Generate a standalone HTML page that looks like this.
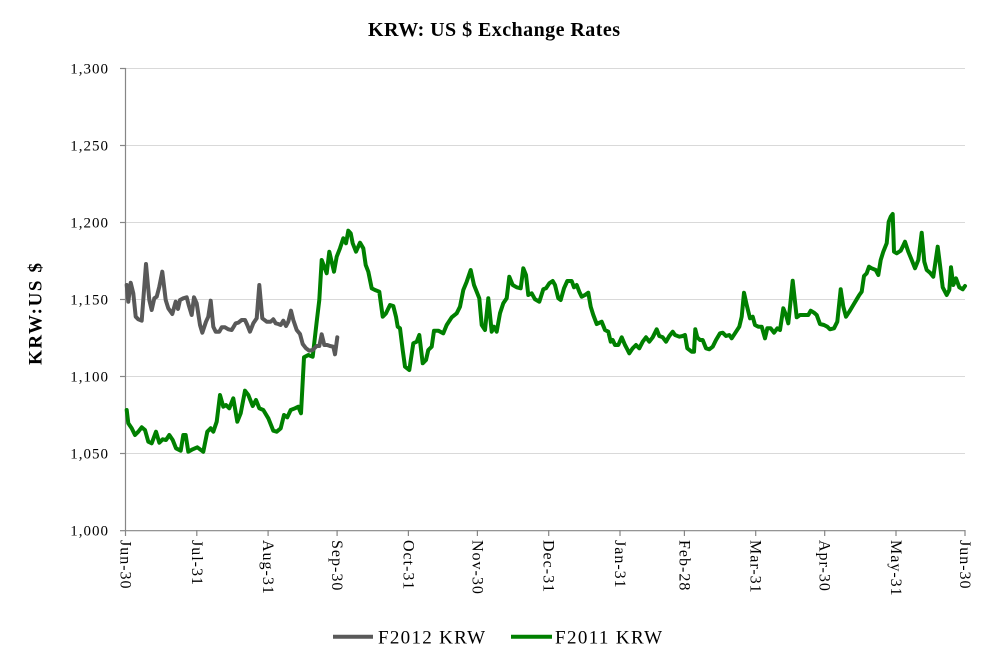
<!DOCTYPE html>
<html>
<head>
<meta charset="utf-8">
<style>
  html, body { margin:0; padding:0; background:#ffffff; }
  body { width:990px; height:670px; overflow:hidden; }
  svg { display:block; }
  text { font-family: "Liberation Serif", "DejaVu Serif", serif; fill:#000; }
</style>
</head>
<body>
<svg width="990" height="670" viewBox="0 0 990 670" xmlns="http://www.w3.org/2000/svg">
  <rect x="0" y="0" width="990" height="670" fill="#ffffff"/>

  <!-- Title -->
  <text x="494" y="36" font-size="20" font-weight="bold" text-anchor="middle" textLength="252" lengthAdjust="spacing">KRW: US $ Exchange Rates</text>

  <!-- Gridlines -->
  <g stroke="#d9d9d9" stroke-width="1">
    <line x1="126" y1="68.5" x2="965" y2="68.5"/>
    <line x1="126" y1="145.5" x2="965" y2="145.5"/>
    <line x1="126" y1="222.5" x2="965" y2="222.5"/>
    <line x1="126" y1="299.5" x2="965" y2="299.5"/>
    <line x1="126" y1="376.5" x2="965" y2="376.5"/>
    <line x1="126" y1="453.5" x2="965" y2="453.5"/>
  </g>

  <!-- Axes -->
  <g stroke="#868686" stroke-width="1.2">
    <line x1="125.5" y1="68" x2="125.5" y2="531"/>
    <line x1="125" y1="530.7" x2="965.5" y2="530.7"/>
    <!-- y ticks -->
    <line x1="120" y1="68.5" x2="126" y2="68.5"/>
    <line x1="120" y1="145.5" x2="126" y2="145.5"/>
    <line x1="120" y1="222.5" x2="126" y2="222.5"/>
    <line x1="120" y1="299.5" x2="126" y2="299.5"/>
    <line x1="120" y1="376.5" x2="126" y2="376.5"/>
    <line x1="120" y1="453.5" x2="126" y2="453.5"/>
    <line x1="120" y1="530.7" x2="126" y2="530.7"/>
    <!-- x ticks -->
    <line x1="125.5" y1="530" x2="125.5" y2="536"/>
    <line x1="196.8" y1="530" x2="196.8" y2="536"/>
    <line x1="268.1" y1="530" x2="268.1" y2="536"/>
    <line x1="337.1" y1="530" x2="337.1" y2="536"/>
    <line x1="408.4" y1="530" x2="408.4" y2="536"/>
    <line x1="477.4" y1="530" x2="477.4" y2="536"/>
    <line x1="548.7" y1="530" x2="548.7" y2="536"/>
    <line x1="620" y1="530" x2="620" y2="536"/>
    <line x1="684.4" y1="530" x2="684.4" y2="536"/>
    <line x1="755.7" y1="530" x2="755.7" y2="536"/>
    <line x1="824.7" y1="530" x2="824.7" y2="536"/>
    <line x1="896" y1="530" x2="896" y2="536"/>
    <line x1="965" y1="530" x2="965" y2="536"/>
  </g>

  <!-- Y tick labels -->
  <g font-size="15" text-anchor="end" letter-spacing="1">
    <text x="109" y="73.5">1,300</text>
    <text x="109" y="150.5">1,250</text>
    <text x="109" y="227.5">1,200</text>
    <text x="109" y="304.5">1,150</text>
    <text x="109" y="381.5">1,100</text>
    <text x="109" y="458.5">1,050</text>
    <text x="109" y="535.7">1,000</text>
  </g>

  <!-- Y axis title -->
  <text x="41.5" y="314" font-size="19" font-weight="bold" text-anchor="middle" transform="rotate(-90 41.5 314)" textLength="102" lengthAdjust="spacing">KRW:US $</text>

  <!-- X tick labels (rotated) -->
  <g font-size="16" letter-spacing="1">
    <text x="120.5" y="540" transform="rotate(90 120.5 540)">Jun-30</text>
    <text x="191.8" y="540" transform="rotate(90 191.8 540)">Jul-31</text>
    <text x="263.1" y="540" transform="rotate(90 263.1 540)">Aug-31</text>
    <text x="332.1" y="540" transform="rotate(90 332.1 540)">Sep-30</text>
    <text x="403.4" y="540" transform="rotate(90 403.4 540)">Oct-31</text>
    <text x="472.4" y="540" transform="rotate(90 472.4 540)">Nov-30</text>
    <text x="543.7" y="540" transform="rotate(90 543.7 540)">Dec-31</text>
    <text x="615" y="540" transform="rotate(90 615 540)">Jan-31</text>
    <text x="679.4" y="540" transform="rotate(90 679.4 540)">Feb-28</text>
    <text x="750.7" y="540" transform="rotate(90 750.7 540)">Mar-31</text>
    <text x="819.7" y="540" transform="rotate(90 819.7 540)">Apr-30</text>
    <text x="891" y="540" transform="rotate(90 891 540)">May-31</text>
    <text x="960" y="540" transform="rotate(90 960 540)">Jun-30</text>
  </g>

  <!-- F2011 KRW (green) -->
  <polyline fill="none" stroke="#008000" stroke-width="4" stroke-linejoin="round" stroke-linecap="round"
    points="126.7,410 128.3,423.3 131.7,428.3 135,435 138.3,431.7 141.7,427.3 145,430 148.3,441.7 151.7,443.3 156,431.7 159.3,442.7 162.7,439.3 166,440 169.3,435 172.7,440 176,448.3 180.7,450.7 183.3,435 185.7,435 188.3,451.7 192.7,449.3 197.3,447.3 200,449.3 203.3,451.7 207.3,431.7 210.7,428.3 213.3,431.7 216.7,421.7 220,395 223.3,406.7 226,405 229.3,408.3 233.3,398.3 237.3,421.7 240.7,413.3 245,390.7 248.3,395 252.7,406 256,400 259.3,408.3 263.3,410 268.3,418.3 273.3,430.7 276.7,431.7 280.7,428.3 284,415 287.3,417.3 290.7,410 295,408.3 298.3,406.7 301,413.3 304,357.3 308.3,355 312.7,356.7 316.7,321.7 319.3,300 321.7,260 326.7,273.3 329.3,251.7 334,271.7 336.7,256.7 340,248.3 343.3,238.3 346,243.3 348.3,230.7 350.7,233.3 352.7,243.3 356,251.7 360,242.7 363.3,248.3 365.7,265 368.3,271.7 371.7,288.3 375,290 379.3,291.7 382.7,316.7 386,313.3 390,305 393.3,306 396,316.7 397.7,326.7 400,328.3 402.7,350 405,366.7 409.3,370 413.3,343.3 416.7,341.7 419.3,335 422.7,363.3 426,360 428.3,350 431.7,346.7 434,330.7 438.3,330.7 443.3,333.3 446.7,325 451.7,317.3 456.7,313.3 460,306.7 463.3,290 466.7,281.7 470.7,270 474,285 476.7,291.7 479.3,298.3 481.7,325 485,330 488.3,298.3 491.7,331.7 494,326.7 496.7,331.7 500,313.3 503.3,303.3 506.7,298.3 509.3,276.7 512.7,285 516.7,287.3 520.7,288.3 523.3,268.3 526,275 528.3,295 531.7,293.3 535,299.3 539.3,301.7 543.3,289.3 546,288.3 549.3,283.3 552.7,281 555,285 558.3,298.3 560.7,300 564,288.3 567.3,281 571.7,281 574,287.3 576.7,285 579.3,291.7 581.7,296.7 585,295 588.3,292.7 590.7,306.7 593.3,315 596.7,324 601.7,321.7 605,330 608.3,331.7 610.7,341.7 612.7,340 615,345 618.3,345 621.7,337.3 625,345 627.3,349.3 629.3,353.3 632.7,348.3 636,345 639.3,348.3 642.7,341.7 646,337.3 649.3,341.7 652.7,337.3 656.7,329.3 659.3,336 662.7,337.3 666,341.7 669.3,336 672.7,331.7 675,335 679.3,336.7 682.7,336 685,335 687.3,348.3 691.7,351.7 694,351.7 695.3,329.3 697.3,337.3 700,340 702.7,340 706,348.3 709.3,349.3 712.7,346.7 716,340 720,333.3 722.7,332.7 726,336 729.3,335 731.7,338.3 735,333.3 739.3,326.7 741.7,316.7 744,292.7 746.7,305 750,318.3 752.7,316.7 755,325 758.3,326.7 761.7,326.7 765,338.3 767.3,328.3 770.7,328.3 774,332.7 777.3,328.3 780,330 783.3,308.3 786,315 788.3,323.3 792.7,280.7 796.7,317.3 800,315 805,315 808.3,315 810.7,310.7 814,312.7 816.7,315 820,324 824,325 827.3,326.7 830,329.3 834,328.3 837.3,321.7 840.7,289.3 843.3,306.7 846,316.7 849.3,311.7 853.3,305 856.7,299.3 859.3,295 861.7,291.7 864,276 866.7,273.3 869,266.7 871.7,268.3 875.7,270 878.3,275 880.7,260 883.3,251.7 886.7,243.3 888.7,221.7 890.7,216.7 892.7,214 894,251.7 896.7,253.3 900.7,250.7 902.7,246.7 905,241.7 908.3,251.7 911.7,260 915,268.3 918.3,260 921.7,232.7 924.3,261.7 926.7,270 930,272.7 933.3,276.7 937.7,246.7 940,265 942.7,287.3 946.7,295 949.3,290 951,267.3 953.3,285 956,278.3 959.3,287.3 962.7,289.3 965,286"/>

  <!-- F2012 KRW (gray) -->
  <polyline fill="none" stroke="#595959" stroke-width="4" stroke-linejoin="round" stroke-linecap="round"
    points="126.7,285 128.3,301.7 130.7,282.7 133.3,293.3 135.7,316.7 138.3,319.3 141.7,320.7 146,264 149.3,300 151.7,310 154.3,298.3 156.7,296.7 159.3,286.7 162.3,271.7 165.7,300 168.3,308.3 172.3,314 175.7,301.7 178,309 180,300 183.3,298.3 186.7,297.3 188.7,305 191.7,315 194,297.3 196.7,303.3 200,325 202.3,332.7 206,321.7 208.3,316.7 210.7,300.7 213.3,326.7 215.7,331.7 219.3,331.7 221.7,327.3 225,327.3 228.3,329.3 231.7,330 235.7,323.3 238.3,322.7 241.7,320 245,320 247.3,325 250,331.7 253.3,323.3 256.7,318.3 259.3,285 262.3,318.3 266.7,321.7 270.7,321.7 273.3,319.3 275.7,323.3 278.3,324 280.7,325 283.3,320.7 286,326 288.3,321.7 291,310.7 293.3,320 296.7,330 300,334 302.7,344 306,348.3 309.3,350.7 312.7,350 316.7,346 319.3,346 321.7,334.3 324.3,345 327.3,345 330,346 333.3,346.7 335,354.3 337.3,337.3"/>

  <!-- Legend -->
  <line x1="333" y1="636.7" x2="373" y2="636.7" stroke="#595959" stroke-width="4"/>
  <text x="378" y="643.5" font-size="19" textLength="107" lengthAdjust="spacing">F2012 KRW</text>
  <line x1="511" y1="636.7" x2="552" y2="636.7" stroke="#008000" stroke-width="4"/>
  <text x="555" y="643.5" font-size="19" textLength="107" lengthAdjust="spacing">F2011 KRW</text>
</svg>
</body>
</html>
